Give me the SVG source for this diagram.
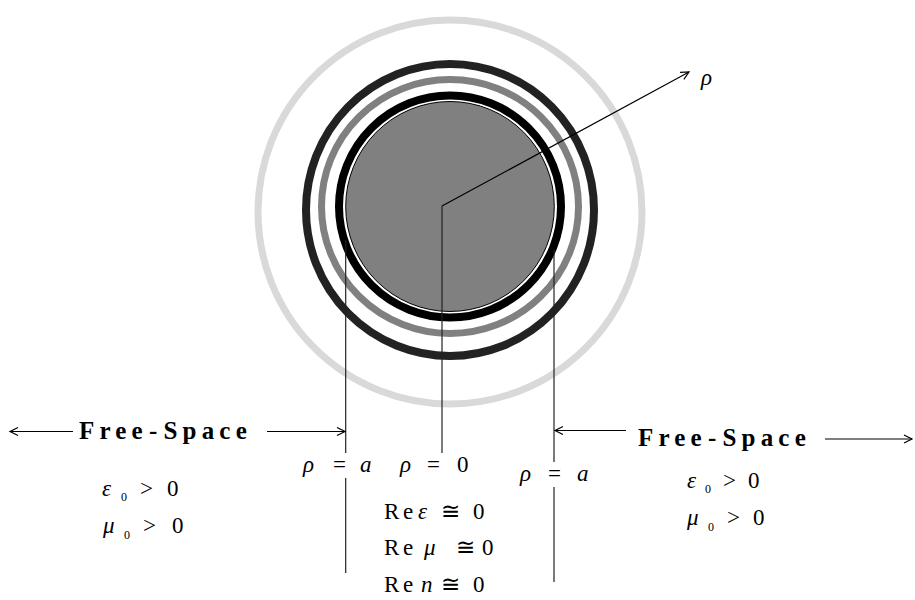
<svg xmlns="http://www.w3.org/2000/svg" width="915" height="600" viewBox="0 0 915 600">
<defs>
<marker id="arr" markerWidth="12" markerHeight="12" refX="9" refY="5" orient="auto" markerUnits="userSpaceOnUse">
<path d="M1,1 L9,5 L1,9" fill="none" stroke="#000" stroke-width="1.2"/>
</marker>
<style>
.ring{fill:none}
.ln{stroke:#222;stroke-width:1.2;fill:none}
.ar{stroke:#000;stroke-width:1.2;fill:none;marker-end:url(#arr)}
text{font-family:'Liberation Serif','Times New Roman',serif;fill:#000}
.m{font-size:23px}
.i{font-style:italic}
.s{font-size:12px}
.fs{font-size:25px;font-weight:bold;letter-spacing:5.2px}
.sp{font-size:4px;letter-spacing:0}
</style>
</defs>
<rect width="915" height="600" fill="#fff"/>
<g id="rings">
<circle cx="450" cy="212" r="192" class="ring" stroke="#d9d9d9" stroke-width="7"/>
<ellipse cx="450" cy="210" rx="144" ry="146" class="ring" stroke="#222" stroke-width="8"/>
<ellipse cx="450" cy="206.5" rx="128.5" ry="127" class="ring" stroke="#808080" stroke-width="7"/>
<ellipse cx="450" cy="206.5" rx="111" ry="111" class="ring" stroke="#000" stroke-width="8"/>
<ellipse cx="450" cy="206.5" rx="104.3" ry="105" fill="#808080" stroke="#000" stroke-width="1"/>
</g>
<g id="connectors">
<line class="ar" x1="442" y1="206" x2="689" y2="72"/>
<line class="ln" x1="442" y1="206" x2="442" y2="453"/>
<line class="ln" x1="345.7" y1="240" x2="345.7" y2="453"/>
<line class="ln" x1="345.7" y1="478" x2="345.7" y2="573"/>
<line class="ln" x1="554" y1="250" x2="554" y2="462"/>
<line class="ln" x1="554" y1="487" x2="554" y2="582"/>
<line class="ar" x1="73" y1="431.5" x2="10" y2="431.5"/>
<line class="ar" x1="267" y1="431.5" x2="345" y2="431.5"/>
<line class="ar" x1="626" y1="430.5" x2="555" y2="430.5"/>
<line class="ar" x1="825" y1="439" x2="912" y2="439"/>
</g>
<g id="rho-label"><text class="m i" x="701" y="85">ρ</text></g>
<g id="free-space-left"><text class="fs" x="79" y="439">Free<tspan class="sp"> </tspan>-<tspan class="sp"> </tspan>Space</text></g>
<g id="free-space-right"><text class="fs" x="638" y="446">Free<tspan class="sp"> </tspan>-<tspan class="sp"> </tspan>Space</text></g>
<g id="rho-a-left"><text class="m"><tspan class="i" x="303" y="472">ρ</tspan><tspan x="333">=</tspan><tspan class="i" x="360">a</tspan></text></g>
<g id="rho-0"><text class="m"><tspan class="i" x="400" y="472">ρ</tspan><tspan x="427">=</tspan><tspan x="457">0</tspan></text></g>
<g id="rho-a-right"><text class="m"><tspan class="i" x="520" y="481">ρ</tspan><tspan x="548">=</tspan><tspan class="i" x="577">a</tspan></text></g>
<g id="re-eps"><text class="m"><tspan x="384" y="519">R</tspan><tspan x="403">e</tspan><tspan class="i" x="418">ε</tspan><tspan x="441">≅</tspan><tspan x="473">0</tspan></text></g>
<g id="re-mu"><text class="m"><tspan x="384" y="555">R</tspan><tspan x="403">e</tspan><tspan class="i" x="424">μ</tspan><tspan x="456">≅</tspan><tspan x="482">0</tspan></text></g>
<g id="re-n"><text class="m"><tspan x="384" y="592">R</tspan><tspan x="403">e</tspan><tspan class="i" x="421">n</tspan><tspan x="441">≅</tspan><tspan x="473">0</tspan></text></g>
<g id="eps-left"><text class="m"><tspan class="i" x="102" y="496">ε</tspan><tspan class="s" x="121" y="501">0</tspan><tspan x="140" y="496">&gt;</tspan><tspan x="167">0</tspan></text></g>
<g id="mu-left"><text class="m"><tspan class="i" x="103" y="533">μ</tspan><tspan class="s" x="124" y="539">0</tspan><tspan x="143" y="533">&gt;</tspan><tspan x="172">0</tspan></text></g>
<g id="eps-right"><text class="m"><tspan class="i" x="687" y="488">ε</tspan><tspan class="s" x="705" y="493">0</tspan><tspan x="723" y="488">&gt;</tspan><tspan x="748">0</tspan></text></g>
<g id="mu-right"><text class="m"><tspan class="i" x="687" y="525">μ</tspan><tspan class="s" x="708" y="531">0</tspan><tspan x="727" y="525">&gt;</tspan><tspan x="753">0</tspan></text></g>
</svg>
